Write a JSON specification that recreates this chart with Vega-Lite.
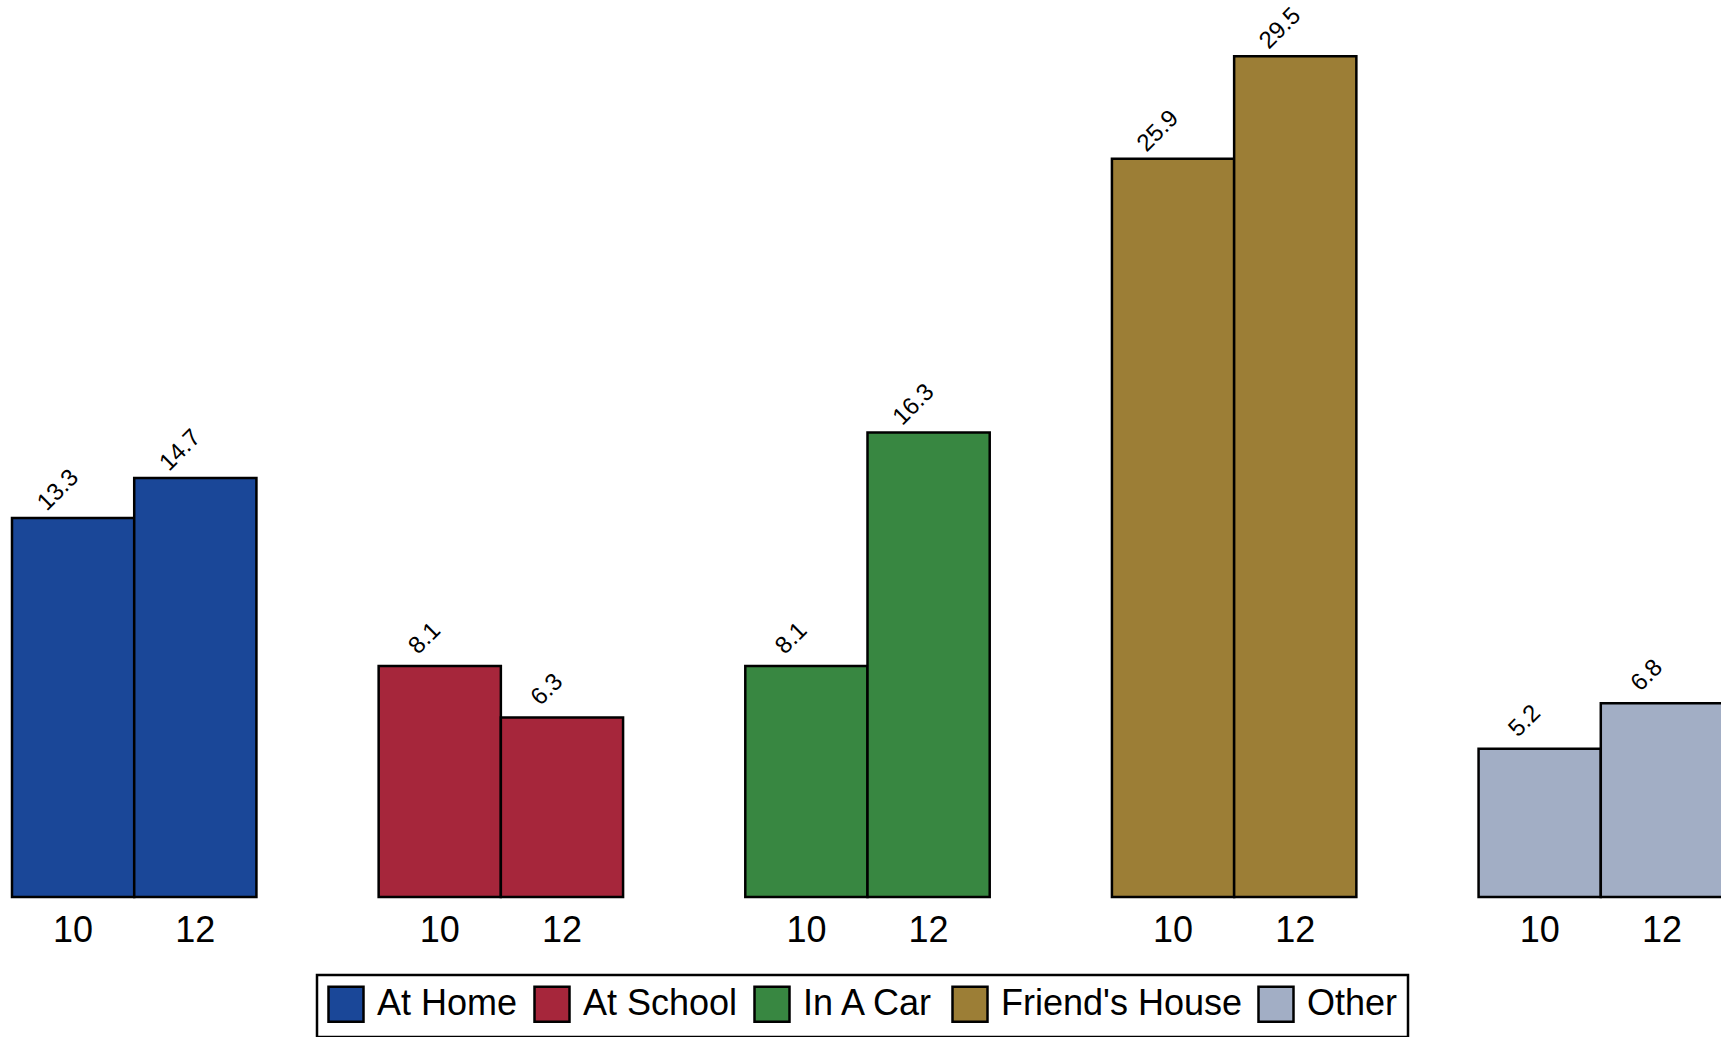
{
  "$schema": "https://vega.github.io/schema/vega-lite/v6.json",
  "autosize": {"type": "none"},
  "width": 1711,
  "height": 897,
  "padding": {"left": 12, "top": 0, "right": 0, "bottom": 140},
  "background": "white",
  "config": {
    "view": {"stroke": null},
    "font": "Liberation Sans",
    "legend": {"strokeWidth": 2.5}
  },
  "data": {
    "values": [
      {"place": "At Home", "grade": "10", "slot": "At Home|10", "pct": 13.3},
      {"place": "At Home", "grade": "12", "slot": "At Home|12", "pct": 14.7},
      {"place": "At School", "grade": "10", "slot": "At School|10", "pct": 8.1},
      {"place": "At School", "grade": "12", "slot": "At School|12", "pct": 6.3},
      {"place": "In A Car", "grade": "10", "slot": "In A Car|10", "pct": 8.1},
      {"place": "In A Car", "grade": "12", "slot": "In A Car|12", "pct": 16.3},
      {"place": "Friend's House", "grade": "10", "slot": "Friend's House|10", "pct": 25.9},
      {"place": "Friend's House", "grade": "12", "slot": "Friend's House|12", "pct": 29.5},
      {"place": "Other", "grade": "10", "slot": "Other|10", "pct": 5.2},
      {"place": "Other", "grade": "12", "slot": "Other|12", "pct": 6.8}
    ]
  },
  "encoding": {
    "x": {
      "field": "slot",
      "type": "nominal",
      "sort": null,
      "scale": {
        "domain": ["At Home|10", "At Home|12", "gap1", "At School|10", "At School|12", "gap2", "In A Car|10", "In A Car|12", "gap3", "Friend's House|10", "Friend's House|12", "gap4", "Other|10", "Other|12"],
        "paddingInner": 0,
        "paddingOuter": 0
      },
      "axis": {
        "title": null,
        "domain": false,
        "ticks": false,
        "labelAngle": 0,
        "labelFontSize": 36,
        "labelColor": "black",
        "labelPadding": 16,
        "labelExpr": "indexof(datum.value, '|') > 0 ? split(datum.value, '|')[1] : ''"
      }
    },
    "y": {
      "field": "pct",
      "type": "quantitative",
      "scale": {"domain": [0, 31.47], "nice": false, "zero": true},
      "axis": null
    }
  },
  "layer": [
    {
      "mark": {"type": "bar", "stroke": "black", "strokeWidth": 2.5, "opacity": 1},
      "encoding": {
        "color": {
          "field": "place",
          "type": "nominal",
          "scale": {
            "domain": ["At Home", "At School", "In A Car", "Friend's House", "Other"],
            "range": ["#1a4798", "#a6263b", "#388741", "#9c7e36", "#a2aec5"]
          },
          "legend": {
            "title": null,
            "orient": "none",
            "direction": "horizontal",
            "columns": 5,
            "legendX": 305,
            "legendY": 975,
            "symbolType": "square",
            "symbolSize": 1225,
            "symbolStrokeColor": "black",
            "symbolStrokeWidth": 2.5,
            "symbolOpacity": 1,
            "labelFontSize": 36,
            "labelColor": "black",
            "labelLimit": 0,
            "labelOffset": 12,
            "columnPadding": 11,
            "padding": 10,
            "strokeColor": "black",
            "fillColor": "white",
            "labelExpr": "datum.label == 'Other' ? 'Other\u00a0\u2009' : datum.label"
          }
        }
      }
    },
    {
      "mark": {
        "type": "text",
        "angle": -45,
        "align": "center",
        "baseline": "middle",
        "dx": 9,
        "dy": -30,
        "fontSize": 24,
        "color": "black"
      },
      "encoding": {
        "text": {"field": "pct", "type": "quantitative", "format": ".1f"}
      }
    }
  ]
}
